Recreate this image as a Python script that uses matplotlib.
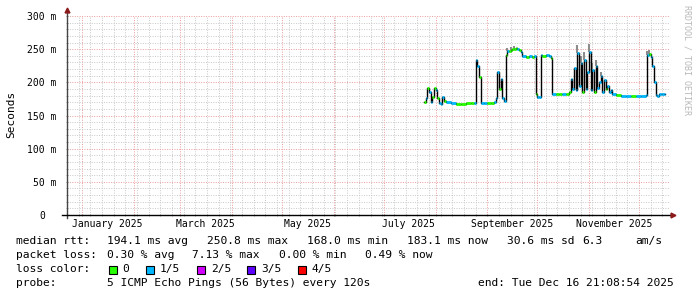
import matplotlib
matplotlib.use("Agg")
import matplotlib.pyplot as plt
import matplotlib.dates as mdates
from matplotlib.patches import Rectangle
from matplotlib.ticker import MultipleLocator, NullFormatter
import pandas as pd

# median rtt per sample (ms) and lost pings out of 5
dates = [
    "2025-07-25", "2025-07-26", "2025-07-27", "2025-07-28", "2025-07-29", "2025-07-30",
    "2025-07-31", "2025-08-01", "2025-08-02", "2025-08-03", "2025-08-04", "2025-08-05",
    "2025-08-06", "2025-08-07", "2025-08-10", "2025-08-13", "2025-08-16", "2025-08-19",
    "2025-08-22", "2025-08-24", "2025-08-25", "2025-08-26", "2025-08-27", "2025-08-28",
    "2025-08-30", "2025-09-01", "2025-09-03", "2025-09-05", "2025-09-06", "2025-09-07",
    "2025-09-08", "2025-09-09", "2025-09-10", "2025-09-11", "2025-09-12", "2025-09-13",
    "2025-09-14", "2025-09-15", "2025-09-16", "2025-09-17", "2025-09-18", "2025-09-19",
    "2025-09-20", "2025-09-21", "2025-09-22", "2025-09-24", "2025-09-26", "2025-09-28",
    "2025-09-29", "2025-09-30", "2025-10-01", "2025-10-02", "2025-10-03", "2025-10-04",
    "2025-10-06", "2025-10-08", "2025-10-09", "2025-10-10", "2025-10-12", "2025-10-14",
    "2025-10-16", "2025-10-18", "2025-10-20", "2025-10-21", "2025-10-22", "2025-10-23",
    "2025-10-24", "2025-10-25", "2025-10-26", "2025-10-27", "2025-10-28", "2025-10-29",
    "2025-10-30", "2025-10-31", "2025-11-01", "2025-11-02", "2025-11-03", "2025-11-04",
    "2025-11-05", "2025-11-06", "2025-11-07", "2025-11-08", "2025-11-09", "2025-11-10",
    "2025-11-11", "2025-11-12", "2025-11-13", "2025-11-14", "2025-11-15", "2025-11-17",
    "2025-11-20", "2025-11-23", "2025-11-26", "2025-11-29", "2025-12-02", "2025-12-05",
    "2025-12-06", "2025-12-07", "2025-12-08", "2025-12-09", "2025-12-10", "2025-12-11",
    "2025-12-12", "2025-12-13", "2025-12-14", "2025-12-15", "2025-12-16",
]
median_ms = [
    171, 176, 192, 185, 170, 178,
    192, 189, 176, 169, 168, 178,
    172, 170, 169, 168, 168, 168.5,
    169, 169, 233, 224, 208, 169,
    169, 168.5, 169, 170, 176, 216,
    190, 205, 176, 172, 241, 247,
    247, 249, 250, 251, 252, 250,
    249, 245, 239, 238, 239, 238,
    239, 183, 178, 178, 241, 240,
    241, 240, 236, 183, 183, 183,
    183, 183, 185, 205, 190, 222,
    188, 244, 195, 229, 186, 233,
    190, 215, 246, 188, 219, 185,
    224, 192, 200, 209, 186, 204,
    190, 195, 186, 188, 183, 181,
    180, 179, 180, 180, 180, 181,
    241, 242, 238, 225, 200, 181,
    180, 182, 183, 183, 183,
]
loss = [
    0, 1, 0, 1, 1, 0,
    0, 1, 0, 1, 1, 1,
    0, 1, 1, 0, 0, 0,
    0, 1, 1, 1, 0, 1,
    1, 0, 0, 1, 1, 1,
    0, 1, 1, 1, 0, 1,
    0, 0, 0, 0, 0, 1,
    0, 1, 1, 0, 1, 0,
    1, 0, 1, 1, 1, 0,
    1, 1, 0, 1, 0, 0,
    1, 0, 0, 1, 1, 1,
    1, 1, 1, 1, 0, 1,
    1, 1, 1, 1, 1, 0,
    1, 1, 1, 1, 1, 1,
    0, 1, 1, 1, 1, 0,
    1, 1, 0, 1, 1, 1,
    1, 0, 1, 1, 1, 1,
    1, 1, 1, 1, 1,
]
end_time = "2025-12-16 21:08:54"

# grey smoke (spread of the pings) where it shows above the median
smoke_dates = ["2025-09-13", "2025-09-15", "2025-09-17", "2025-10-25", "2025-10-27",
               "2025-10-29", "2025-11-01", "2025-11-03", "2025-11-05", "2025-11-08",
               "2025-12-06", "2025-12-07"]
smoke_lo = [247, 249, 251, 244, 229, 233, 246, 219, 224, 209, 241, 242]
smoke_hi = [252, 254, 255, 257, 240, 246, 258, 229, 233, 216, 247, 248]

loss_labels = ["0", "1/5", "2/5", "3/5", "4/5"]
loss_colors = ["#26ff00", "#00b8ff", "#d200ff", "#5e00ff", "#ff0000"]

month_labels = ["2025-01-16", "2025-03-16", "2025-05-16", "2025-07-16", "2025-09-16", "2025-11-16"]
y_ticks = [0, 50, 100, 150, 200, 250, 300]

mono = "DejaVu Sans Mono"
W, H = 697, 297
fig = plt.figure(figsize=(W / 100, H / 100), dpi=100)
fig.patch.set_facecolor("white")
ax = fig.add_axes([67 / W, (H - 215) / H, (669 - 67) / W, (215 - 16) / H])

t = pd.to_datetime(dates)
t_end = pd.to_datetime([end_time])
t_all = t.append(t_end)

ax.vlines(pd.to_datetime(smoke_dates), smoke_lo, smoke_hi, color="#8c8c8c", lw=1.5, zorder=2)

# median line: black connectors, loss coloured steps on top
ax.step(t_all, median_ms + [median_ms[-1]], where="post", color="black", lw=1.0, zorder=3)
ax.hlines(median_ms, t_all[:-1], t_all[1:], colors=[loss_colors[l] for l in loss],
          lw=2.0, zorder=4)

ax.set_xlim(pd.Timestamp("2024-12-23"), pd.Timestamp("2025-12-19"))
ax.set_ylim(0, 300)

ax.xaxis.set_major_locator(mdates.MonthLocator())
ax.xaxis.set_major_formatter(NullFormatter())
ax.xaxis.set_minor_locator(mdates.WeekdayLocator(byweekday=mdates.MO))
ax.set_yticks(y_ticks)
ax.set_yticklabels([f"{v} m" if v else "0" for v in y_ticks], fontfamily=mono, fontsize=7)
ax.yaxis.set_minor_locator(MultipleLocator(10))

ax.grid(which="minor", color="#c8c8c8", lw=0.7, linestyle=(0, (1, 1.5)))
ax.grid(which="major", color="#eb9b9b", lw=0.7, linestyle=(0, (1, 1.5)))
ax.set_axisbelow(True)
for s in ax.spines.values():
    s.set_visible(False)
ax.tick_params(axis="both", which="both", length=2, direction="inout", color="#999999")
ax.tick_params(axis="y", which="major", pad=6.5)
ax.yaxis.get_major_ticks()[0].set_pad(14.5)

# axis lines with arrow heads
ax.plot([0, 0], [-0.015, 1.03], transform=ax.transAxes, color="#444444", lw=1, clip_on=False, zorder=5)
ax.plot([-0.008, 1.005], [0, 0], transform=ax.transAxes, color="black", lw=1, clip_on=False, zorder=5)
ax.plot([0], [1.03], marker="^", ms=3.5, color="#8b1a1a", transform=ax.transAxes, clip_on=False, zorder=6)
ax.plot([1.007], [0], marker=">", ms=3.5, color="#8b1a1a", transform=ax.transAxes, clip_on=False, zorder=6)

# month labels centred mid-month
ax2 = ax.twiny()
ax2.set_xlim(ax.get_xlim())
ax2.xaxis.set_ticks_position("bottom")
ax2.set_xticks(mdates.date2num(pd.to_datetime(month_labels)))
ax2.set_xticklabels([pd.Timestamp(d).strftime("%B %Y") for d in month_labels],
                    fontfamily=mono, fontsize=7)
ax2.tick_params(axis="x", length=0, pad=3)
for s in ax2.spines.values():
    s.set_visible(False)

fig.text(11 / W, 1 - 114 / H, "Seconds", rotation=90, va="center", ha="center",
         fontfamily=mono, fontsize=8)
fig.text(687 / W, 1 - 60 / H, "RRDTOOL / TOBI OETIKER", rotation=-90, va="center", ha="center",
         fontfamily=mono, fontsize=6, color="#b8b8b8")

def ftxt(x, y, s):
    fig.text(x / W, 1 - y / H, s, va="center", ha="left", fontfamily=mono, fontsize=8.1)

ftxt(16, 241, "median rtt:")
ftxt(107, 241, "194.1 ms avg")
ftxt(207, 241, "250.8 ms max")
ftxt(307, 241, "168.0 ms min")
ftxt(407, 241, "183.1 ms now")
ftxt(507, 241, "30.6 ms sd")
ftxt(582, 241, "6.3")
ftxt(635, 241, "am/s")

ftxt(16, 255, "packet loss:")
ftxt(107, 255, "0.30 % avg")
ftxt(192, 255, "7.13 % max")
ftxt(279, 255, "0.00 % min")
ftxt(365, 255, "0.49 % now")

ftxt(16, 269, "loss color:")
box_x = [108.5, 146, 197, 247, 298]
for bx, lab, col in zip(box_x, loss_labels, loss_colors):
    fig.add_artist(Rectangle((bx / W, 1 - 273.5 / H), 8 / W, 8 / H, transform=fig.transFigure,
                             facecolor=col, edgecolor="black", lw=0.8))
    ftxt(bx + 14, 269, lab)

ftxt(16, 283, "probe:")
ftxt(107, 283, "5 ICMP Echo Pings (56 Bytes) every 120s")
ftxt(478, 283, "end: Tue Dec 16 21:08:54 2025")

fig.savefig("out.png", dpi=100)
plt.close(fig)
